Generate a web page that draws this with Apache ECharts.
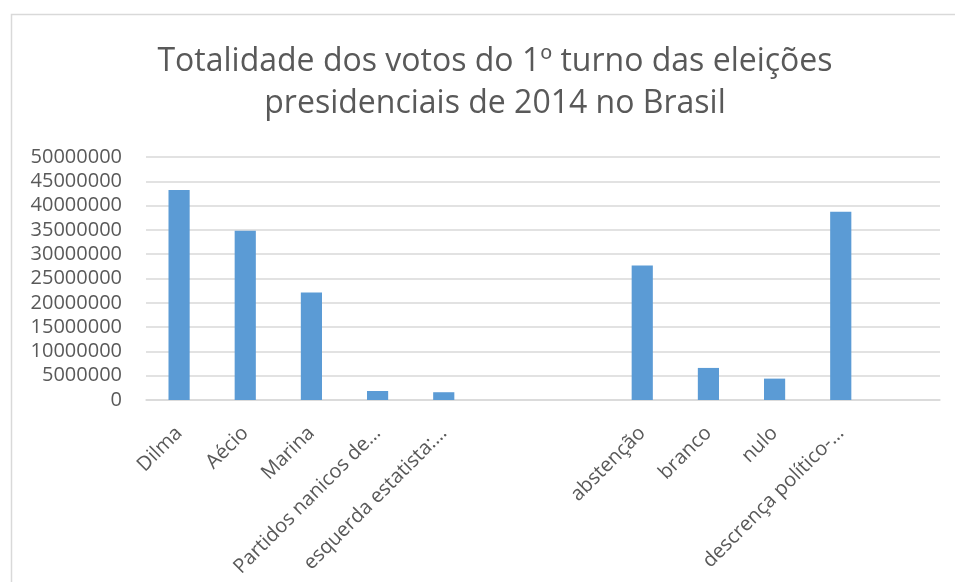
<!DOCTYPE html>
<html>
<head>
<meta charset="utf-8">
<script src="https://cdn.jsdelivr.net/npm/echarts@6/dist/echarts.min.js"></script>
<style>
  html, body { margin: 0; padding: 0; background: #fff; }
  #chart { width: 955px; height: 582px; }
</style>
</head>
<body>
<div id="chart"></div>
<script>
const categories = [
  'Dilma', 'Aécio', 'Marina', 'Partidos nanicos de…', 'esquerda estatista:…',
  '', '', 'abstenção', 'branco', 'nulo', 'descrença político-…', ''
];
const votes = [
  43200000, 34850000, 22100000, 1850000, 1600000,
  null, null, 27650000, 6600000, 4400000, 38750000, null
];
const yTicks = { min: 0, max: 50000000, interval: 5000000 };

const chart = echarts.init(document.getElementById('chart'), null, { renderer: 'canvas' });
const textColor = '#595959';
const fontFamily = '"Open Sans", sans-serif';

chart.setOption({
  animation: false,
  backgroundColor: '#fff',
  graphic: [{
    type: 'rect',
    left: 9,
    top: 12,
    shape: { width: 1000, height: 600 },
    style: { fill: 'none', stroke: '#d9d9d9', lineWidth: 1.5 },
    silent: true
  }],
  title: {
    text: 'Totalidade dos votos do 1º turno das eleições\npresidenciais de 2014 no Brasil',
    left: 490,
    top: 36,
    textAlign: 'center',
    textStyle: {
      color: textColor,
      fontFamily,
      fontWeight: 'normal',
      fontSize: 32,
      lineHeight: 42
    }
  },
  grid: {
    left: 146,
    right: 15,
    top: 157,
    bottom: 182,
    containLabel: false
  },
  xAxis: {
    type: 'category',
    data: categories,
    axisLine: { lineStyle: { color: '#d9d9d9', width: 1.5 } },
    axisTick: { show: false },
    axisLabel: {
      interval: 0,
      rotate: 45,
      color: textColor,
      fontFamily,
      fontSize: 20,
      margin: 30
    }
  },
  yAxis: {
    type: 'value',
    min: yTicks.min,
    max: yTicks.max,
    interval: yTicks.interval,
    axisLine: { show: false },
    axisTick: { show: false },
    axisLabel: {
      color: textColor,
      fontFamily,
      fontSize: 20,
      margin: 24,
      formatter: (value) => String(value)
    },
    splitLine: { lineStyle: { color: '#d9d9d9', width: 1.5 } }
  },
  series: [{
    type: 'bar',
    data: votes,
    barWidth: '32%',
    itemStyle: { color: '#5b9bd5' }
  }]
});
</script>
</body>
</html>
